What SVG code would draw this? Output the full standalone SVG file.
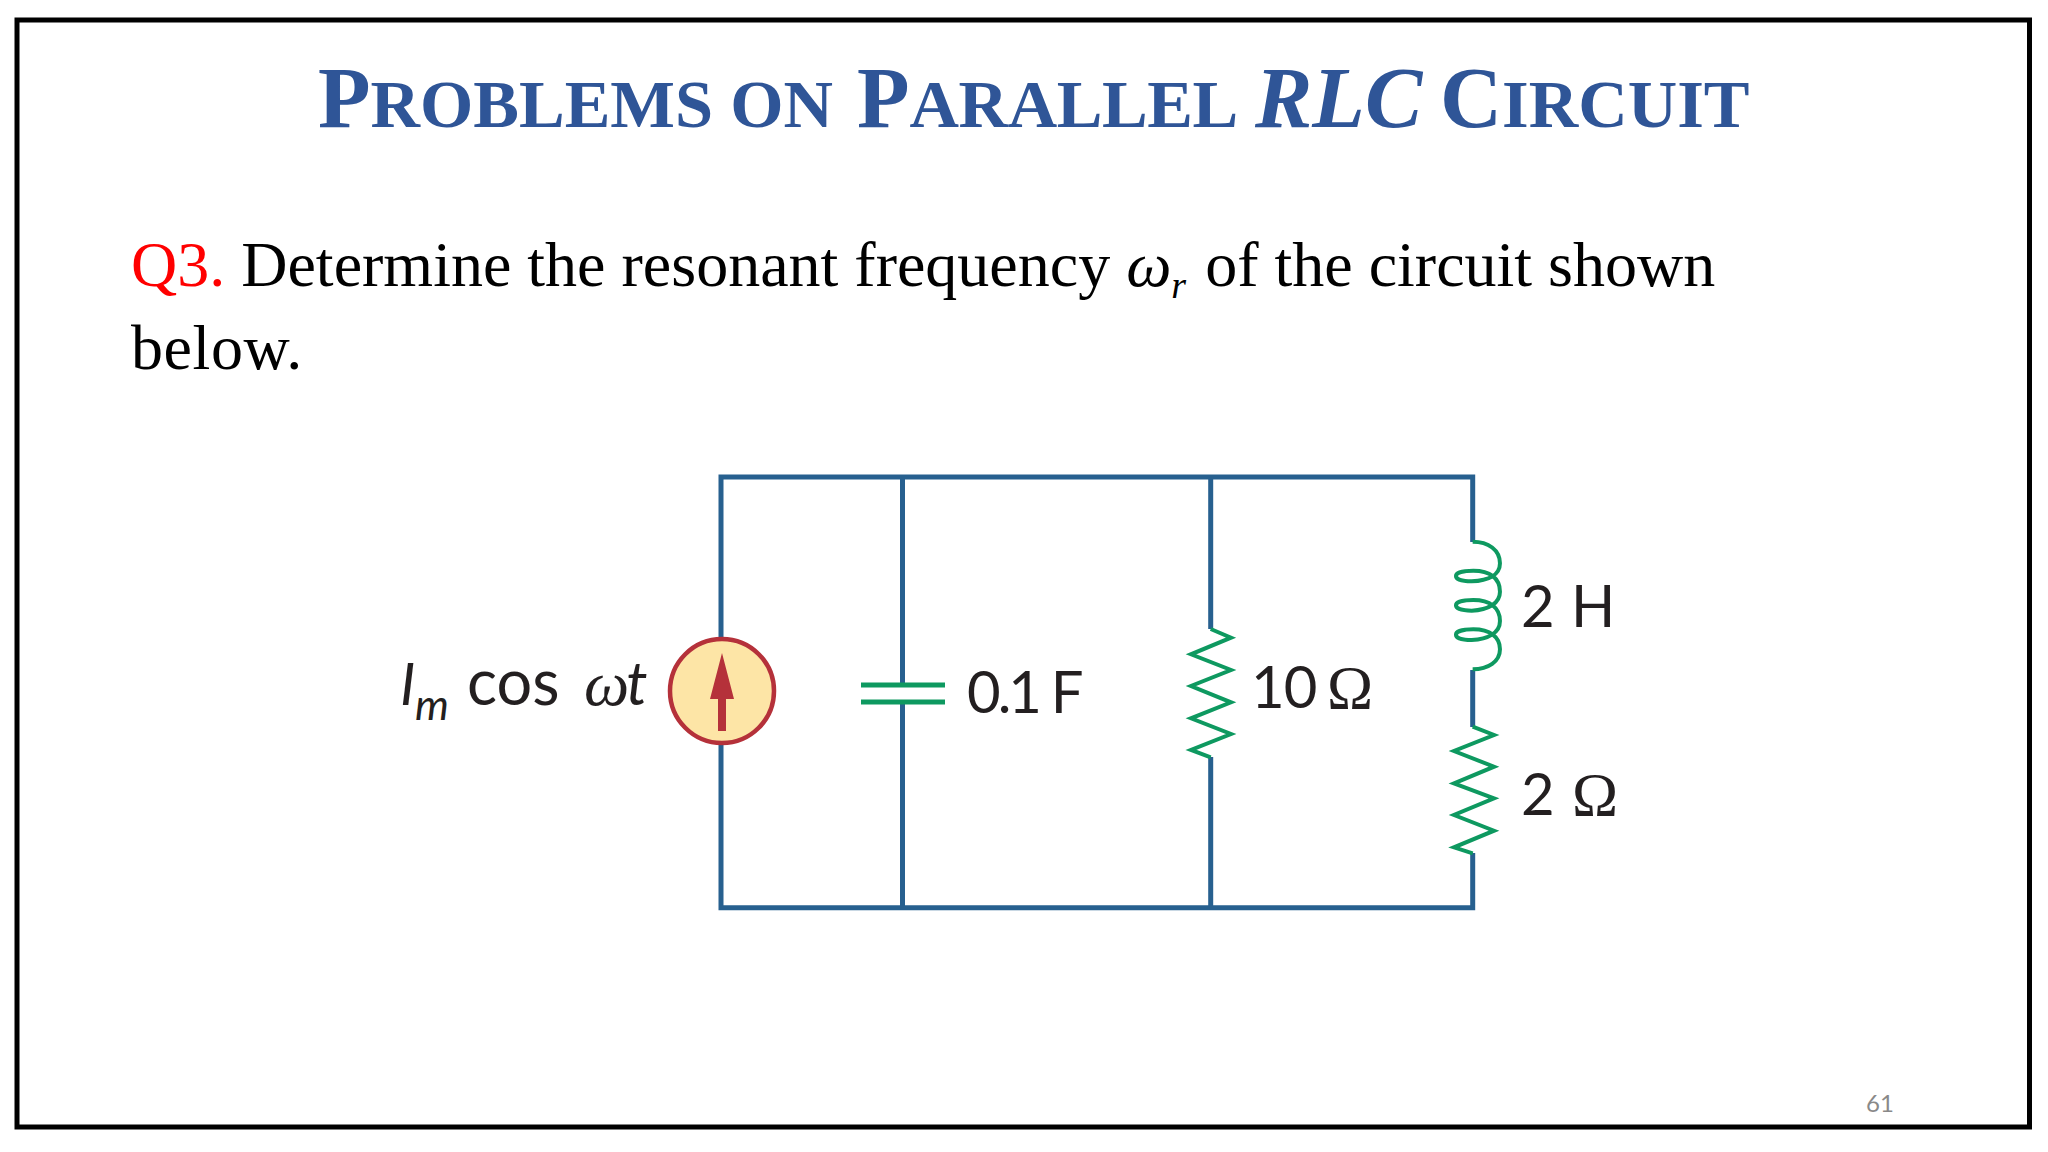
<svg xmlns="http://www.w3.org/2000/svg" width="2048" height="1152" viewBox="0 0 2048 1152">
<style>
.ser{font-family:"Liberation Serif","Times New Roman",serif}
.title{font-weight:bold;fill:#2F5597;font-size:86px}
.sc{font-size:68.500px}
.body{font-size:64px;fill:#000}
.lab{font-family:Lato,"Open Sans",sans-serif;font-size:58px;fill:#231f20}
.om{font-family:"Liberation Serif",serif;font-size:62px;fill:#231f20}
.wire{fill:none;stroke:#27608f;stroke-width:5}
.el{fill:none;stroke:#0e9960;stroke-width:4}
</style>
<rect width="2048" height="1152" fill="#fff"/>
<rect x="17" y="20" width="2012.500" height="1107" fill="none" stroke="#000" stroke-width="5"/>
<text id="title" class="ser title" y="127"><tspan x="318">P</tspan><tspan class="sc">ROBLEMS ON</tspan><tspan x="857">P</tspan><tspan class="sc" letter-spacing="-.4">ARALLEL</tspan><tspan x="1255" font-style="italic">RLC</tspan><tspan x="1440">C</tspan><tspan class="sc">IRCUIT</tspan></text>
<text id="question" class="ser body" x="131" y="286"><tspan fill="#f00">Q3.</tspan> Determine the resonant frequency <tspan font-style="italic">ω</tspan><tspan font-style="italic" font-size="38" dy="12">r</tspan><tspan dy="-12" dx="3"> of the circuit shown</tspan></text>
<text id="question2" class="ser body" x="131" y="369" letter-spacing=".6">below.</text>
<g id="connectors">
<path class="wire" d="M721 638V477H1472.700V542M721 744V907.700H1472.700V853M902.500 477V685M902.500 702V907.700M1210.700 477V629M1210.700 757V907.700M1472.700 670V727"/>
</g>
<g id="source">
<circle cx="722" cy="691" r="52" fill="#fde5a6" stroke="#b5313a" stroke-width="4.500"/>
<path d="M722 653L734 699H726V731H718V699H710Z" fill="#b5313a"/>
<text class="lab" x="400" y="705" font-style="italic">I</text>
<text class="lab" x="415" y="720" font-style="italic" style="font-size:43px">m</text>
<text class="lab" x="467" y="705" style="font-size:63px">cos</text>
<text class="om" x="584" y="705" font-style="italic" style="font-size:64px">ω<tspan dx="-3" style="font-family:Lato,'Open Sans',sans-serif;font-size:60px">t</tspan></text>
</g>
<g id="capacitor">
<path class="el" d="M861 685H945M861 702H945" style="stroke-width:5"/>
<text class="lab" x="967" y="713" letter-spacing="-3">0.1 F</text>
</g>
<g id="r10">
<polyline class="el" points="1210.700,629 1231,637.700 1191,654.300 1231,670 1191,686 1231,702.300 1191,718.300 1231,734 1191,750 1210.700,757.300"/>
<text class="lab" x="1251" y="708" letter-spacing="-1">10</text>
<text class="om" x="1327" y="708">Ω</text>
</g>
<g id="inductor">
<path class="el" transform="translate(1160 520) scale(.3333)" style="stroke-width:12" d="M938 65C985 65 1020 90 1020 130C1020 165 985 182 935 184C905 184 888 178 888 168C888 158 910 152 940 152C990 152 1020 175 1020 215C1020 250 985 270 935 272C905 272 888 266 888 256C888 246 910 240 940 240C990 240 1020 263 1020 303C1020 338 985 358 935 360C905 360 888 354 888 344C888 334 910 328 940 328C990 328 1020 351 1020 388C1020 425 985 448 938 448"/>
<text class="lab" x="1521" y="627" letter-spacing=".8">2 H</text>
</g>
<g id="r2">
<polyline class="el" points="1472.700,726.700 1494,735 1454,751 1494,766.700 1454,783.300 1494,798.300 1454,815 1494,830.700 1454,847.300 1472.700,853.300"/>
<text class="lab" x="1521" y="815">2</text>
<text class="om" x="1572" y="815">Ω</text>
</g>
<text id="page" x="1866" y="1112" font-family="Lato,'Open Sans',sans-serif" font-size="24" fill="#898989">61</text>
</svg>
